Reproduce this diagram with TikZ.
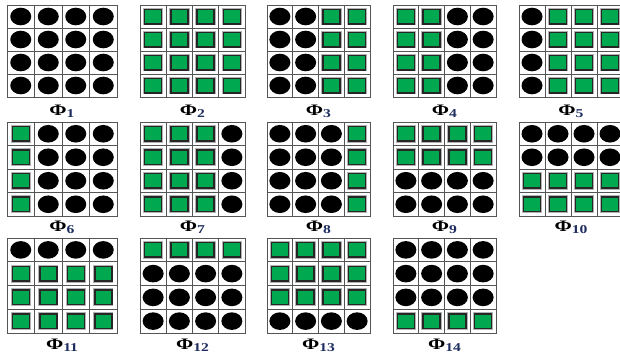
\documentclass[tikz,border=0pt]{standalone}
\usepackage{fontspec}
\setmainfont{Liberation Serif}
\usepackage{graphicx}
\definecolor{sqgreen}{RGB}{0,168,80}
\definecolor{gridgray}{RGB}{85,85,85}
\definecolor{subblue}{RGB}{30,45,95}
\tikzset{
  gridline/.style={draw=gridgray, line width=1pt},
  blackdot/.style={fill=black},
  greensq/.style={draw=black!85, line width=1.5pt, fill=sqgreen,
     minimum width=17pt, minimum height=14.5pt, inner sep=0pt,
     preaction={draw=black!30, line width=3.4pt}},
  lab/.style={anchor=base, inner sep=0pt, font=\fontsize{16}{16}\selectfont\bfseries}
}
\newcommand{\phigrid}[7]{%
  \begin{scope}[shift={(#1,-#2)}]
    \foreach \t [count=\i from 0] in {#5} {
      \pgfmathtruncatemacro\rr{int(\i/4)}
      \pgfmathtruncatemacro\cc{mod(\i,4)}
      \pgfmathsetmacro\cx{(\cc+0.5)*#3/4}
      \pgfmathsetmacro\cy{-(\rr+0.5)*#4/4}
      \if B\t
        \fill[blackdot] (\cx,\cy) ellipse (10.5 and 8.8);
      \else
        \node[greensq] at (\cx,\cy) {};
      \fi
    }
    \foreach \k in {1,2,3} {
      \draw[gridline] ({\k*#3/4},0) -- ({\k*#3/4},-#4);
      \draw[gridline] (0,{-\k*#4/4}) -- (#3,{-\k*#4/4});
    }
    \draw[gridline] (0,0) rectangle (#3,-#4);
  \end{scope}
  \node[lab] (lab#6) at ({#1+#3/2},-#7) {\scalebox{1.3}[1]{Φ\raisebox{-2.8pt}{\fontsize{12}{12}\selectfont\color{subblue}#6}}};
}
\begin{document}
\begin{tikzpicture}[x=1pt,y=1pt]
\useasboundingbox (0,0) rectangle (620,-357);
\fill[white] (0,0) rectangle (620,-357);
% row 1
\phigrid{7}{5}{110}{92}{B,B,B,B,B,B,B,B,B,B,B,B,B,B,B,B}{1}{115}
\phigrid{140}{5}{105}{92}{G,G,G,G,G,G,G,G,G,G,G,G,G,G,G,G}{2}{115}
\phigrid{267}{5}{103}{92}{B,B,G,G,B,B,G,G,B,B,G,G,B,B,G,G}{3}{115}
\phigrid{393}{5}{103}{92}{G,G,B,B,G,G,B,B,G,G,B,B,G,G,B,B}{4}{115}
\phigrid{519}{5}{104}{92}{B,G,G,G,B,G,G,G,B,G,G,G,B,G,G,G}{5}{115}
% row 2
\phigrid{7}{122}{110}{94}{G,B,B,B,G,B,B,B,G,B,B,B,G,B,B,B}{6}{231}
\phigrid{140}{122}{105}{94}{G,G,G,B,G,G,G,B,G,G,G,B,G,G,G,B}{7}{231}
\phigrid{267}{122}{103}{94}{B,B,B,G,B,B,B,G,B,B,B,G,B,B,B,G}{8}{231}
\phigrid{393}{122}{103}{94}{G,G,G,G,G,G,G,G,B,B,B,B,B,B,B,B}{9}{231}
\phigrid{519}{122}{104}{94}{B,B,B,B,B,B,B,B,G,G,G,G,G,G,G,G}{10}{231}
% row 3
\phigrid{7}{238}{110}{95}{B,B,B,B,G,G,G,G,G,G,G,G,G,G,G,G}{11}{349}
\phigrid{140}{238}{105}{95}{G,G,G,G,B,B,B,B,B,B,B,B,B,B,B,B}{12}{349}
\phigrid{267}{238}{103}{95}{G,G,G,G,G,G,G,G,G,G,G,G,B,B,B,B}{13}{349}
\phigrid{393}{238}{103}{95}{B,B,B,B,B,B,B,B,B,B,B,B,G,G,G,G}{14}{349}
\end{tikzpicture}
\end{document}
